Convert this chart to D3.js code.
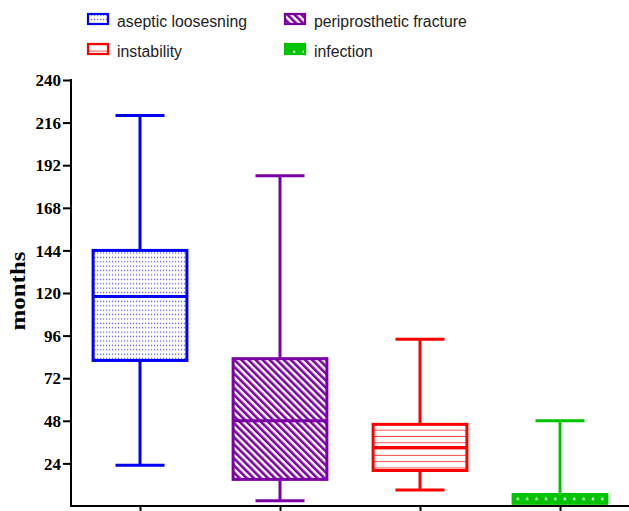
<!DOCTYPE html>
<html>
<head>
<meta charset="utf-8">
<script src="https://cdn.jsdelivr.net/npm/d3@7"></script>
<style>
  body { margin: 0; background: #fff; }
  svg { display: block; }
  .legend text { font-family: "Liberation Sans", Arial, sans-serif; font-size: 15.8px; fill: #222; }
  .yaxis text { font-family: "Liberation Serif", "Times New Roman", serif; font-weight: bold; font-size: 17px; fill: #000; }
</style>
</head>
<body>
<div id="chart"></div>
<script>
// box plot data, months
const categories = ['aseptic loosesning', 'periprosthetic fracture', 'instability', 'infection'];
const mins    = [23, 3, 9, 1];
const q1s     = [82, 15, 20, 1.5];
const medians = [118, 48, 33, 3];
const q3s     = [144, 83, 46, 6.5];
const maxs    = [220, 186, 94, 48];
const yTicks  = [24, 48, 72, 96, 120, 144, 168, 192, 216, 240];

const colors = ['#0000f5', '#7a00a3', '#ff0000', '#00c400'];
const patternIds = ['pat-dots', 'pat-diag', 'pat-hlines', 'pat-spots'];

const width = 629, height = 511;

const svg = d3.select('#chart').append('svg')
  .attr('width', width)
  .attr('height', height);

const x = d3.scalePoint()
  .domain(categories)
  .range([70, 630])
  .padding(0.5);

const y = d3.scaleLinear()
  .domain([0, 240])
  .range([506, 80]);

const boxW = x.step() * 0.67;
const capW = x.step() * 0.35;

// patterns
const defs = svg.append('defs');

const pDots = defs.append('pattern')
  .attr('id', 'pat-dots')
  .attr('patternUnits', 'userSpaceOnUse')
  .attr('width', 3).attr('height', 4.4);
pDots.append('rect').attr('width', 3).attr('height', 4.4).attr('fill', '#fff');
pDots.append('rect').attr('x', 1).attr('y', 1.5).attr('width', 1.2).attr('height', 1.3).attr('fill', '#5a5aff');

const pDiag = defs.append('pattern')
  .attr('id', 'pat-diag')
  .attr('patternUnits', 'userSpaceOnUse')
  .attr('width', 5).attr('height', 5)
  .attr('patternTransform', 'rotate(-45)');
pDiag.append('rect').attr('width', 5).attr('height', 5).attr('fill', '#fff');
pDiag.append('rect').attr('width', 2.6).attr('height', 5).attr('fill', colors[1]);

const pH = defs.append('pattern')
  .attr('id', 'pat-hlines')
  .attr('patternUnits', 'userSpaceOnUse')
  .attr('y', y(q3s[2]))
  .attr('width', 10).attr('height', 6.3);
pH.append('rect').attr('width', 10).attr('height', 6.3).attr('fill', '#fff');
pH.append('rect').attr('y', 5.3).attr('width', 10).attr('height', 1).attr('fill', '#ff4a4a');

const pSpots = defs.append('pattern')
  .attr('id', 'pat-spots')
  .attr('patternUnits', 'userSpaceOnUse')
  .attr('x', x(categories[3]) - boxW / 2)
  .attr('y', y(q3s[3]) - 1)
  .attr('width', 9.4).attr('height', 10);
pSpots.append('rect').attr('width', 9.4).attr('height', 10).attr('fill', colors[3]);
pSpots.append('path').attr('d', 'M3,6.5L4.7,3.5L6.4,6.5Z').attr('fill', '#fff');

// axes
const yAxis = svg.append('g')
  .attr('class', 'yaxis')
  .attr('transform', 'translate(71,0)')
  .call(d3.axisLeft(y).tickValues(yTicks).tickSize(8).tickSizeOuter(0).tickPadding(2));
yAxis.select('.domain').attr('stroke', '#000').attr('stroke-width', 2)
  .attr('d', `M0,${y(240) - 1}V${y(0)}`);
yAxis.selectAll('.tick line').attr('stroke', '#000').attr('stroke-width', 2);
yAxis.selectAll('.tick text').attr('dy', '0.34em');

const xAxis = svg.append('g')
  .attr('transform', `translate(0,${y(0)})`)
  .call(d3.axisBottom(x).tickSize(7).tickSizeOuter(0).tickFormat(''));
xAxis.select('.domain').attr('stroke', '#000').attr('stroke-width', 2)
  .attr('d', `M70,0H${width}`);
xAxis.selectAll('.tick line').attr('stroke', '#000').attr('stroke-width', 2);

svg.append('text')
  .attr('transform', `translate(25,291) rotate(-90)`)
  .attr('text-anchor', 'middle')
  .attr('font-family', '"Liberation Serif", "Times New Roman", serif')
  .attr('font-weight', 'bold')
  .attr('font-size', 21)
  .attr('textLength', 79)
  .attr('lengthAdjust', 'spacingAndGlyphs')
  .text('months');

// boxes
const rows = categories.map((c, i) => ({
  c, i, min: mins[i], q1: q1s[i], med: medians[i], q3: q3s[i], max: maxs[i]
}));

const g = svg.selectAll('g.box').data(rows).join('g')
  .attr('class', 'box')
  .attr('stroke', d => colors[d.i])
  .attr('stroke-width', 3);

g.append('line')
  .attr('x1', d => x(d.c)).attr('x2', d => x(d.c))
  .attr('y1', d => y(d.max)).attr('y2', d => y(d.q3));
g.append('line')
  .attr('x1', d => x(d.c)).attr('x2', d => x(d.c))
  .attr('y1', d => y(d.q1)).attr('y2', d => y(d.min));
g.append('line')
  .attr('x1', d => x(d.c) - capW / 2).attr('x2', d => x(d.c) + capW / 2)
  .attr('y1', d => y(d.max)).attr('y2', d => y(d.max));
g.filter(d => d.i !== 3).append('line')
  .attr('x1', d => x(d.c) - capW / 2).attr('x2', d => x(d.c) + capW / 2)
  .attr('y1', d => y(d.min)).attr('y2', d => y(d.min));
g.append('rect')
  .attr('x', d => x(d.c) - boxW / 2)
  .attr('width', boxW)
  .attr('y', d => y(d.q3))
  .attr('height', d => y(d.q1) - y(d.q3))
  .attr('fill', d => `url(#${patternIds[d.i]})`);
g.filter(d => d.i !== 3).append('line')
  .attr('x1', d => x(d.c) - boxW / 2).attr('x2', d => x(d.c) + boxW / 2)
  .attr('y1', d => y(d.med)).attr('y2', d => y(d.med));

// legend
const legendPos = [[87, 13], [284, 13], [87, 43], [284, 43]];
const legendOrder = [0, 1, 2, 3];
const lg = svg.append('g').attr('class', 'legend')
  .selectAll('g').data(legendOrder).join('g')
  .attr('transform', i => `translate(${legendPos[i][0]},${legendPos[i][1]})`);
lg.append('rect')
  .attr('x', 1).attr('y', 1)
  .attr('width', 20).attr('height', 10)
  .attr('fill', i => `url(#${patternIds[i]})`)
  .attr('stroke', i => colors[i])
  .attr('stroke-width', 2.2);
lg.append('text')
  .attr('x', 30).attr('y', 13.5)
  .text(i => categories[i]);
</script>
</body>
</html>
